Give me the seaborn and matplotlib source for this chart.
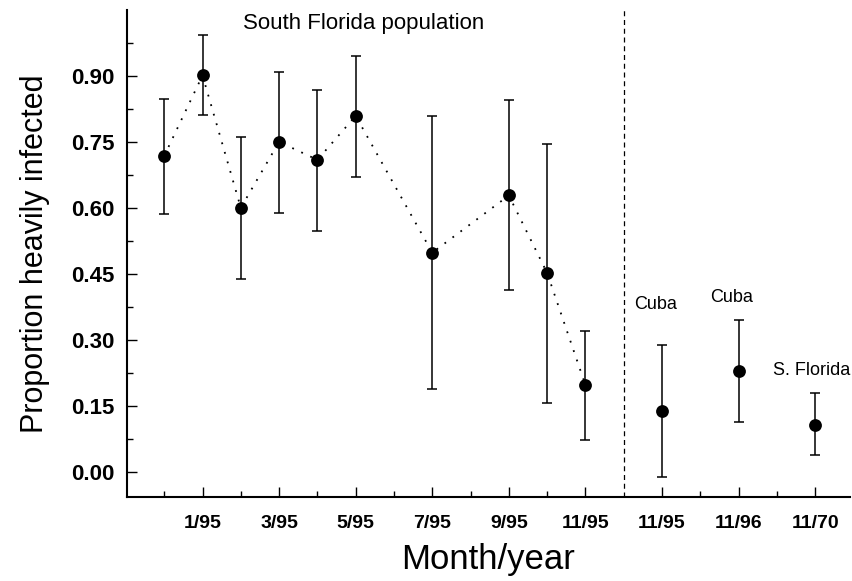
import numpy as np
import pandas as pd
import seaborn as sns
import matplotlib.pyplot as plt

# South Florida monthly samples (x = month index, 0 = 12/94)
sf_pos = [0, 1, 2, 3, 4, 5, 7, 9, 10, 11]
sf_prop = [0.718, 0.901, 0.600, 0.750, 0.709, 0.809, 0.498, 0.628, 0.452, 0.197]
sf_upper = [0.847, 0.993, 0.761, 0.909, 0.868, 0.946, 0.808, 0.845, 0.745, 0.319]
sf_lower = [0.587, 0.811, 0.438, 0.588, 0.548, 0.669, 0.189, 0.412, 0.157, 0.072]

# other populations, to the right of the dashed line
other_pos = [13, 15, 17]
other_prop = [0.138, 0.230, 0.107]
other_upper = [0.289, 0.346, 0.178]
other_lower = [-0.012, 0.114, 0.037]
other_names = ["Cuba", "Cuba", "S. Florida"]

xtick_pos = [1, 3, 5, 7, 9, 11, 13, 15, 17]
xtick_labels = ["1/95", "3/95", "5/95", "7/95", "9/95", "11/95", "11/95", "11/96", "11/70"]


def main():
    sns.set_style("ticks", {"axes.edgecolor": "black", "xtick.color": "black",
                            "ytick.color": "black", "text.color": "black",
                            "axes.labelcolor": "black"})
    plt.rcParams["font.family"] = ["Liberation Sans", "DejaVu Sans"]

    fig = plt.figure(figsize=(8.53, 5.81), dpi=100)
    ax = fig.add_axes([0.149, 0.145, 0.847, 0.838])

    sf = pd.DataFrame({"pos": sf_pos, "prop": sf_prop, "lo": sf_lower, "hi": sf_upper})
    ot = pd.DataFrame({"pos": other_pos, "prop": other_prop, "lo": other_lower, "hi": other_upper})
    both = pd.concat([sf, ot], ignore_index=True)

    # dotted trend line through the South Florida series
    sns.lineplot(data=sf, x="pos", y="prop", ax=ax, color="black",
                 linestyle=(0, (1, 4.5)), linewidth=1.3, estimator=None)

    ax.errorbar(both["pos"], both["prop"],
                yerr=[both["prop"] - both["lo"], both["hi"] - both["prop"]],
                fmt="none", ecolor="black", elinewidth=1.1, capsize=3.8, capthick=1.1)

    sns.scatterplot(data=both, x="pos", y="prop", ax=ax, color="black",
                    s=85, edgecolor="black", linewidth=0, zorder=5)

    ax.axvline(12, color="black", linewidth=0.9, linestyle=(0, (4, 3)))

    ax.set_xlim(-0.97, 17.9)
    ax.set_ylim(-0.057, 1.05)

    ax.set_xticks(xtick_pos)
    ax.set_xticklabels(xtick_labels, fontsize=14, fontweight="bold")
    ax.set_xticks([0, 2, 4, 6, 8, 10, 14, 16], minor=True)
    yt = np.round(np.arange(0, 0.91, 0.15), 2)
    ax.set_yticks(yt)
    ax.set_yticklabels([f"{v:.2f}" for v in yt], fontsize=16, fontweight="bold")
    ax.set_yticks(np.round(np.arange(0.075, 1.0, 0.15), 3), minor=True)

    ax.tick_params(axis="both", which="major", direction="in", length=7, width=1, pad=9)
    ax.tick_params(axis="both", which="minor", direction="in", length=4, width=1)
    ax.tick_params(axis="x", which="major", pad=13)

    sns.despine(ax=ax)
    for s in ["left", "bottom"]:
        ax.spines[s].set_linewidth(1.5)

    ax.set_xlabel("Month/year", fontsize=25, labelpad=8)
    ax.set_ylabel("Proportion heavily infected", fontsize=22, labelpad=15)

    ax.text(5.2, 1.02, "South Florida population", fontsize=16, ha="center", va="center")
    label_y = [0.38, 0.395, 0.23]
    label_x = [12.83, 14.83, 16.9]
    for name, lx, ly in zip(other_names, label_x, label_y):
        ax.text(lx, ly, name, fontsize=13, ha="center", va="center")

    plt.savefig("out.png", dpi=100)


if __name__ == "__main__":
    main()
